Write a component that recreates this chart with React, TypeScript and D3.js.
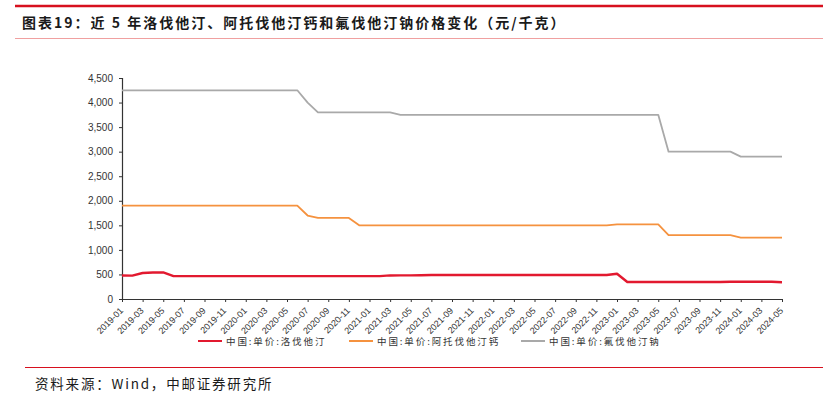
import { useRef, useEffect } from "react";
import * as d3 from "d3";

const W = 823;
const H = 397;

const startYear = 2019;
const months: string[] = [];
for (let i = 0; i < 65; i++) {
  const y = startYear + Math.floor(i / 12);
  const m = (i % 12) + 1;
  months.push(`${y}-${m < 10 ? "0" + m : m}`);
}

// 中国:单价:洛伐他汀
const lovastatin = [
  480, 475, 530, 540, 540, 465, 465, 465, 465, 465, 465, 465,
  465, 465, 465, 465, 465, 465, 465, 465, 465, 465, 465, 465,
  465, 465, 480, 482, 482, 485, 490, 490, 490, 490, 490, 490,
  490, 490, 490, 490, 490, 490, 490, 490, 490, 490, 490, 490,
  515, 345, 345, 345, 345, 345, 345, 345, 345, 345, 345, 350,
  350, 350, 350, 350, 342,
];
// 中国:单价:阿托伐他汀钙
const atorvastatin = [
  1900, 1900, 1900, 1900, 1900, 1900, 1900, 1900, 1900, 1900, 1900, 1900,
  1900, 1900, 1900, 1900, 1900, 1900, 1700, 1650, 1650, 1650, 1650, 1500,
  1500, 1500, 1500, 1500, 1500, 1500, 1500, 1500, 1500, 1500, 1500, 1500,
  1500, 1500, 1500, 1500, 1500, 1500, 1500, 1500, 1500, 1500, 1500, 1500,
  1520, 1520, 1520, 1520, 1520, 1300, 1300, 1300, 1300, 1300, 1300, 1300,
  1250, 1250, 1250, 1250, 1250,
];
// 中国:单价:氟伐他汀钠
const fluvastatin = [
  4250, 4250, 4250, 4250, 4250, 4250, 4250, 4250, 4250, 4250, 4250, 4250,
  4250, 4250, 4250, 4250, 4250, 4250, 4000, 3800, 3800, 3800, 3800, 3800,
  3800, 3800, 3800, 3750, 3750, 3750, 3750, 3750, 3750, 3750, 3750, 3750,
  3750, 3750, 3750, 3750, 3750, 3750, 3750, 3750, 3750, 3750, 3750, 3750,
  3750, 3750, 3750, 3750, 3750, 3000, 3000, 3000, 3000, 3000, 3000, 3000,
  2900, 2900, 2900, 2900, 2900,
];

const seriesNames = ["中国:单价:洛伐他汀", "中国:单价:阿托伐他汀钙", "中国:单价:氟伐他汀钠"];
const seriesColors = ["#E2192F", "#F5923F", "#A9A9A9"];
const yTicks = [0, 500, 1000, 1500, 2000, 2500, 3000, 3500, 4000, 4500];

const title = "图表19：近 5 年洛伐他汀、阿托伐他汀钙和氟伐他汀钠价格变化（元/千克）";
const source = "资料来源：Wind，中邮证券研究所";

const FONT = "'Noto Sans CJK SC', 'Noto Sans', sans-serif";
const LATIN = "'Liberation Sans', Arial, sans-serif";

export default function App() {
  const ref = useRef<SVGSVGElement>(null);

  useEffect(() => {
    if (!ref.current) return;
    const svg = d3.select(ref.current);
    svg.selectAll("*").remove();

    svg.append("rect").attr("width", W).attr("height", H).attr("fill", "#fff");

    // header
    svg.append("line").attr("x1", 15).attr("x2", W).attr("y1", 6).attr("y2", 6)
      .attr("stroke", "#D7101E").attr("stroke-width", 2.5);
    svg.append("text").attr("x", 22).attr("y", 28).text(title)
      .attr("font-family", FONT).attr("font-size", 14).attr("font-weight", "bold")
      .attr("letter-spacing", 2).attr("fill", "#1a1a1a");
    svg.append("line").attr("x1", 15).attr("x2", W).attr("y1", 38.5).attr("y2", 38.5)
      .attr("stroke", "#F0A0A0").attr("stroke-width", 1);

    const x = d3.scalePoint<string>().domain(months).range([122, 782]);
    const y = d3.scaleLinear().domain([0, 4500]).range([299, 78]);

    // y axis
    const ya = svg.append("g").attr("transform", "translate(122,0)")
      .call(d3.axisLeft(y).tickValues(yTicks).tickSize(3).tickPadding(6).tickFormat(d3.format(",") as any));
    ya.select(".domain").attr("stroke", "#333").attr("stroke-width", 1.2);
    ya.selectAll(".tick line").attr("stroke", "#333");
    ya.selectAll("text").attr("font-family", LATIN).attr("font-size", 10).attr("fill", "#333");

    // x axis
    const xTicks = months.filter((_, i) => i % 2 === 0);
    const xa = svg.append("g").attr("transform", "translate(0,299)")
      .call(d3.axisBottom(x).tickValues(xTicks).tickSize(3).tickSizeOuter(0));
    xa.select(".domain").attr("stroke", "#333").attr("stroke-width", 1.2);
    xa.selectAll(".tick line").attr("stroke", "#333");
    xa.selectAll("text")
      .attr("font-family", LATIN).attr("font-size", 9).attr("fill", "#333")
      .attr("text-anchor", "end").attr("x", 0).attr("y", 0).attr("dy", "0.35em")
      .attr("transform", "translate(-1,10) rotate(-45)");

    const data = [lovastatin, atorvastatin, fluvastatin];
    const line = d3.line<number>().x((_, i) => x(months[i]) as number).y((d) => y(d));
    [2, 1, 0].forEach((k) => {
      svg.append("path").datum(data[k]).attr("fill", "none")
        .attr("stroke", seriesColors[k]).attr("stroke-width", k === 0 ? 2.4 : 1.8)
        .attr("stroke-linejoin", "round").attr("d", line);
    });

    // legend
    const legX = [198, 349, 521];
    seriesNames.forEach((name, k) => {
      const g = svg.append("g").attr("transform", `translate(${legX[k]},341)`);
      g.append("line").attr("x1", 0).attr("x2", 24).attr("stroke", seriesColors[k]).attr("stroke-width", 2);
      g.append("text").attr("x", 28).attr("y", 3.5).text(name)
        .attr("font-family", FONT).attr("font-size", 9.5).attr("fill", "#333").attr("letter-spacing", 1.9);
    });

    // footer
    svg.append("line").attr("x1", 25).attr("x2", W).attr("y1", 367.5).attr("y2", 367.5)
      .attr("stroke", "#D7101E").attr("stroke-width", 1);
    svg.append("text").attr("x", 35).attr("y", 389).text(source)
      .attr("font-family", FONT).attr("font-size", 13.5).attr("fill", "#1a1a1a").attr("letter-spacing", 1.8);
  }, []);

  return (
    <svg ref={ref} width={W} height={H}
      style={{ position: "absolute", left: 0, top: 0, display: "block" }} />
  );
}
